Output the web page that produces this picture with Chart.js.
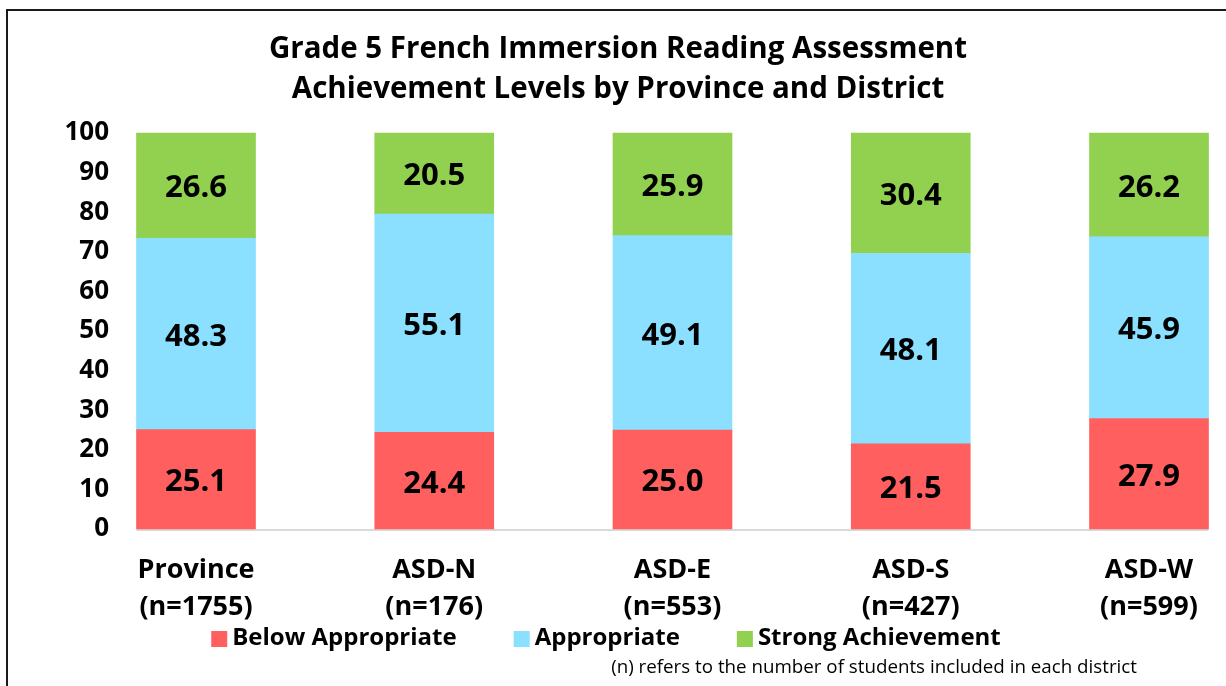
<!DOCTYPE html>
<html>
<head>
<meta charset="utf-8">
<title>Grade 5 French Immersion Reading Assessment</title>
<script src="https://cdn.jsdelivr.net/npm/chart.js@4.4.1/dist/chart.umd.min.js"></script>
<style>
    html, body { margin: 0; padding: 0; background: #fff; overflow: hidden; }
    #frame {
        position: absolute; left: 6px; top: 9px;
        width: 1300px; height: 700px;
        border-left: 2px solid #1a1a1a; border-top: 2px solid #1a1a1a;
    }
    #chart { position: absolute; left: 0; top: 0; }
</style>
</head>
<body>
<div id="frame"></div>
<canvas id="chart" width="1226" height="686"></canvas>
<script>
// Chart data
const categories = [
    ['Province', '(n=1755)'],
    ['ASD-N', '(n=176)'],
    ['ASD-E', '(n=553)'],
    ['ASD-S', '(n=427)'],
    ['ASD-W', '(n=599)']
];
const belowAppropriate = [25.1, 24.4, 25.0, 21.5, 27.9];
const appropriate = [48.3, 55.1, 49.1, 48.1, 45.9];
const strongAchievement = [26.6, 20.5, 25.9, 30.4, 26.2];
const yTicks = [0, 10, 20, 30, 40, 50, 60, 70, 80, 90, 100];
const footnote = '(n) refers to the number of students included in each district';

const colors = {
    red: '#FF5F5F',
    blue: '#8BDFFF',
    green: '#92D050',
    axis: '#D9D9D9',
    text: '#000000'
};
const fontFamily = "'Open Sans', 'Noto Sans', sans-serif";

Chart.defaults.font.family = fontFamily;
Chart.defaults.color = colors.text;

// value labels centred in each stacked segment
const segmentLabels = {
    id: 'segmentLabels',
    afterDatasetsDraw(chart) {
        const ctx = chart.ctx;
        ctx.save();
        ctx.font = `bold 31px ${fontFamily}`;
        ctx.fillStyle = colors.text;
        ctx.textAlign = 'center';
        ctx.textBaseline = 'middle';
        chart.data.datasets.forEach((ds, i) => {
            const meta = chart.getDatasetMeta(i);
            meta.data.forEach((bar, j) => {
                const { x, y, base } = bar.getProps(['x', 'y', 'base'], true);
                ctx.fillText(ds.data[j].toFixed(1), x, (y + base) / 2 + 3);
            });
        });
        ctx.restore();
    }
};

// light baseline running under the bars
const baseLine = {
    id: 'baseLine',
    beforeDatasetsDraw(chart) {
        const meta = chart.getDatasetMeta(0);
        if (!meta.data.length) return;
        const first = meta.data[0];
        const last = meta.data[meta.data.length - 1];
        const y0 = chart.scales.y.getPixelForValue(0);
        const ctx = chart.ctx;
        ctx.save();
        ctx.strokeStyle = colors.axis;
        ctx.lineWidth = 2;
        ctx.beginPath();
        ctx.moveTo(first.x - first.width / 2, y0 + 1);
        ctx.lineTo(last.x + last.width / 2, y0 + 1);
        ctx.stroke();
        ctx.restore();
    }
};

// title sits centred over the plot rather than the whole canvas
const titleShift = {
    id: 'titleShift',
    afterLayout(chart) {
        if (chart.titleBlock) chart.titleBlock.left += 47;
    }
};

// compact legend (tight box/text gap) and the footnote
const bottomLegend = {
    id: 'bottomLegend',
    afterDraw(chart) {
        const ctx = chart.ctx;
        const box = 16, gap = 5, spacing = 57, centreX = 606, midY = 638;
        ctx.save();
        ctx.font = `bold 24px ${fontFamily}`;
        ctx.textBaseline = 'middle';
        ctx.textAlign = 'left';
        const items = chart.data.datasets.map(ds => ({
            text: ds.label, color: ds.backgroundColor, w: ctx.measureText(ds.label).width
        }));
        const total = items.reduce((s, it) => s + box + gap + it.w, 0) + spacing * (items.length - 1);
        let x = centreX - total / 2;
        items.forEach(it => {
            ctx.fillStyle = it.color;
            ctx.fillRect(x, midY - 7, box, box);
            ctx.fillStyle = colors.text;
            ctx.fillText(it.text, x + box + gap, midY);
            x += box + gap + it.w + spacing;
        });

        ctx.font = `18.75px ${fontFamily}`;
        ctx.textAlign = 'right';
        ctx.fillText(footnote, 1137, 668);
        ctx.restore();
    }
};

const barStyle = { borderWidth: 0, barThickness: 119, clip: false };

new Chart(document.getElementById('chart'), {
    type: 'bar',
    data: {
        labels: categories,
        datasets: [
            { label: 'Below Appropriate', data: belowAppropriate, backgroundColor: colors.red, ...barStyle },
            { label: 'Appropriate', data: appropriate, backgroundColor: colors.blue, ...barStyle },
            { label: 'Strong Achievement', data: strongAchievement, backgroundColor: colors.green, ...barStyle }
        ]
    },
    options: {
        responsive: false,
        devicePixelRatio: 1,
        animation: false,
        layout: { padding: { left: 40, right: 77, top: 0, bottom: 37 } },
        plugins: {
            title: {
                display: true,
                text: ['Grade 5 French Immersion Reading Assessment', 'Achievement Levels by Province and District'],
                color: colors.text,
                font: { size: 29.5, weight: 'bold', lineHeight: 40 / 29.5 },
                padding: { top: 30, bottom: 23 }
            },
            legend: { display: false },
            tooltip: { enabled: false }
        },
        scales: {
            x: {
                stacked: true,
                offset: false,
                grid: { display: false, drawTicks: false },
                border: { display: false },
                ticks: {
                    padding: 23,
                    color: colors.text,
                    font: { size: 27, weight: 'bold', lineHeight: 37 / 27 },
                    maxRotation: 0
                }
            },
            y: {
                stacked: true,
                min: 0,
                max: 100,
                grid: { display: false, drawTicks: false },
                border: { display: false },
                afterBuildTicks(scale) { scale.ticks = yTicks.map(v => ({ value: v })); },
                ticks: {
                    padding: 87,
                    color: colors.text,
                    font: { size: 26, weight: 'bold' }
                },
                afterFit(scale) { scale.width = 156; }
            }
        }
    },
    plugins: [baseLine, segmentLabels, titleShift, bottomLegend]
});
</script>
</body>
</html>
